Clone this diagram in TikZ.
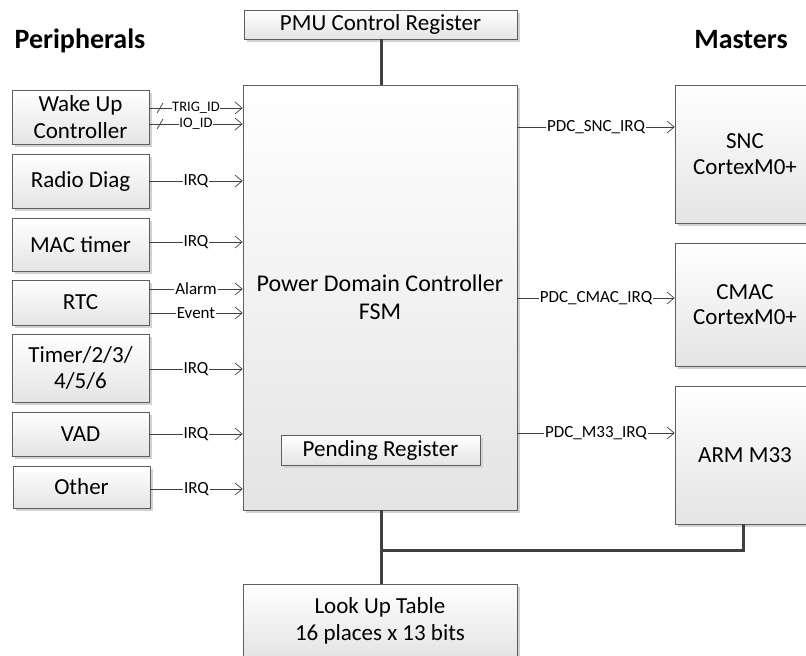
\documentclass[tikz,border=0pt]{standalone}
\usepackage{fontspec}
\setmainfont{Carlito}
\usetikzlibrary{arrows.meta,shadows}
\definecolor{boxline}{HTML}{5E5E5E}
\definecolor{boxbot}{HTML}{E4E4E4}
\definecolor{shadowc}{HTML}{D2D2D2}
\definecolor{sigc}{HTML}{404040}
\definecolor{busc}{HTML}{404040}
\begin{document}
\begin{tikzpicture}[x=1pt,y=-1pt,
  box/.style={draw=boxline, line width=0.8pt, top color=white, bottom color=boxbot,
    drop shadow={shadow xshift=3pt,shadow yshift=-3pt,fill=shadowc,opacity=1},
    inner sep=0pt, align=center, text=black, font=\fontsize{23}{26.5}\selectfont},
  sig/.style={draw=sigc, line width=0.7pt, -{Straight Barb[length=7pt,width=12pt,line width=0.7pt]}},
  slashmark/.style={draw=sigc, line width=0.7pt},
  lbl/.style={fill=white, inner sep=1pt, text=black, font=\fontsize{17}{19}\selectfont},
  smalllbl/.style={lbl, inner sep=0.5pt, font=\fontsize{14.5}{16}\selectfont},
  bus/.style={draw=busc, line width=3pt},
  hdr/.style={text=black, font=\bfseries\fontsize{28}{32}\selectfont}
]
\useasboundingbox (0,0) rectangle (806,656);
\clip (0,0) rectangle (806,656);

% headers
\node[hdr, anchor=base] (per) at (80,48) {Peripherals};
\node[hdr, anchor=base] (mas) at (741,48) {Masters};

% central blocks
\node[box, minimum width=273pt, minimum height=29pt] (pmu) at (380.5,24.5) {PMU Control Register};
\node[box, minimum width=274pt, minimum height=425pt, font=\fontsize{24}{28}\selectfont] (fsm) at (380,297.5) {Power Domain Controller\\FSM};
\node[box, minimum width=199pt, minimum height=30pt] (pend) at (380.5,450) {Pending Register};
\node[box, minimum width=274pt, minimum height=74pt] (lut) at (380,621) {Look Up Table\\16 places x 13 bits};

% peripherals
\node[box, minimum width=137pt, minimum height=54pt] (wake) at (80.5,117) {Wake Up\\Controller};
\node[box, minimum width=137pt, minimum height=54pt] (radio) at (80.5,181) {Radio Diag};
\node[box, minimum width=137pt, minimum height=53pt] (mac) at (80.5,244.5) {MAC timer};
\node[box, minimum width=137pt, minimum height=45pt] (rtc) at (80.5,302.5) {RTC};
\node[box, minimum width=137pt, minimum height=68pt] (timer) at (80.5,368) {Timer/2/3/\\4/5/6};
\node[box, minimum width=137pt, minimum height=44pt] (vad) at (80.5,434) {VAD};
\node[box, minimum width=137pt, minimum height=42pt] (other) at (81.5,487) {Other};

% masters
\node[box, minimum width=140pt, minimum height=138pt, font=\fontsize{23}{25.5}\selectfont] (snc) at (745,154) {SNC\\CortexM0+};
\node[box, minimum width=140pt, minimum height=123pt, font=\fontsize{23}{25.5}\selectfont] (cmac) at (745,304.5) {CMAC\\CortexM0+};
\node[box, minimum width=140pt, minimum height=138pt] (arm) at (745,455) {ARM M33};

% peripheral signals
\draw[sig] (wake.east |- 0,108) -- node[smalllbl]{TRIG\_ID} (fsm.west |- 0,108);
\draw[sig] (wake.east |- 0,124) -- node[smalllbl]{IO\_ID} (fsm.west |- 0,124);
\draw[slashmark] (157,113) -- (163,103);
\draw[slashmark] (157,129) -- (163,119);
\draw[sig] (radio.east |- 0,181) -- node[lbl]{IRQ} (fsm.west |- 0,181);
\draw[sig] (mac.east |- 0,242) -- node[lbl]{IRQ} (fsm.west |- 0,242);
\draw[sig] (rtc.east |- 0,289) -- node[lbl]{Alarm} (fsm.west |- 0,289);
\draw[sig] (rtc.east |- 0,313) -- node[lbl]{Event} (fsm.west |- 0,313);
\draw[sig] (timer.east |- 0,369) -- node[lbl]{IRQ} (fsm.west |- 0,369);
\draw[sig] (vad.east |- 0,434) -- node[lbl]{IRQ} (fsm.west |- 0,434);
\draw[sig] (other.east |- 0,489) -- node[lbl]{IRQ} (fsm.west |- 0,489);

% master signals
\draw[sig] (fsm.east |- 0,127) -- node[lbl]{PDC\_SNC\_IRQ} (snc.west |- 0,127);
\draw[sig] (fsm.east |- 0,298) -- node[lbl]{PDC\_CMAC\_IRQ} (cmac.west |- 0,298);
\draw[sig] (fsm.east |- 0,433) -- node[lbl]{PDC\_M33\_IRQ} (arm.west |- 0,433);

% buses
\coordinate (j) at (381,550);
\draw[bus] (pmu.south -| j) -- (fsm.north -| j);
\draw[bus] (fsm.south -| j) -- (lut.north -| j);
\draw[bus] (j) -| (arm.south -| 743,0);
\end{tikzpicture}
\end{document}
